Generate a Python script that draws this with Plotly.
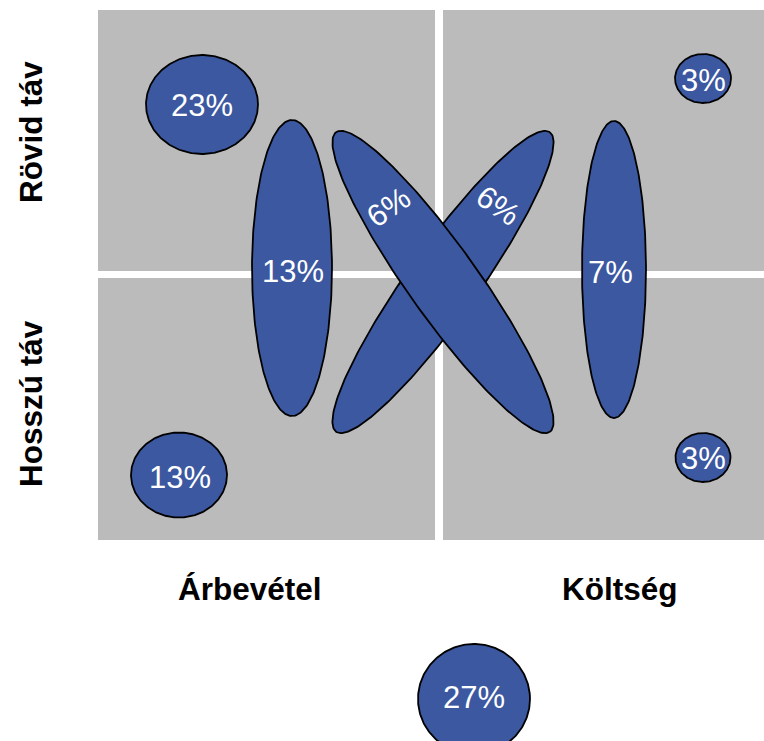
import numpy as np
import plotly.graph_objects as go

# ---- data ----
labels = ["23%", "13%", "6%", "6%", "7%", "3%", "13%", "3%", "27%"]
cx = [202, 292, 443, 443, 614, 703, 179, 703, 474]
cy = [104.5, 268, 282, 282, 269.5, 78.5, 475, 457.5, 699]
rx = [56, 40, 184, 184, 32, 28, 48, 27.5, 56]
ry = [49.5, 148, 35, 35, 148.5, 24.5, 42.5, 24.5, 55]
rot = [0, 0, -54.5, 54.5, 0, 0, 0, 0, 0]
text_x = [202, 293, 498, 388, 610, 703, 180, 703, 474]
text_y = [105, 271, 205, 207, 272, 80, 477, 458, 697]
text_angle = [0, 0, 35, -35, 0, 0, 0, 0, 0]

col_labels = ["Árbevétel", "Költség"]
col_label_x = [250, 620]
row_labels = ["Rövid táv", "Hosszú táv"]
row_label_y = [132, 404]

quad_x0 = [98, 443, 98, 443]
quad_x1 = [435, 770, 435, 770]
quad_y0 = [10, 10, 278, 278]
quad_y1 = [271, 271, 540, 540]

FILL = "#3B58A0"
GRAY = "#BBBBBB"
FONT = "Liberation Sans, Arial, sans-serif"

W, H = 764, 741

fig = go.Figure()

for x0, x1, y0, y1 in zip(quad_x0, quad_x1, quad_y0, quad_y1):
    fig.add_shape(type="rect", x0=x0, x1=x1, y0=y0, y1=y1,
                  fillcolor=GRAY, line=dict(width=0), layer="below")

t = np.linspace(0, 2 * np.pi, 241)
for i in range(len(labels)):
    th = np.deg2rad(rot[i])
    px = cx[i] + rx[i] * np.cos(t) * np.cos(th) - ry[i] * np.sin(t) * np.sin(th)
    py = cy[i] + rx[i] * np.cos(t) * np.sin(th) + ry[i] * np.sin(t) * np.cos(th)
    fig.add_trace(go.Scatter(x=px, y=py, mode="lines", fill="toself",
                             fillcolor=FILL, line=dict(color="black", width=1.8),
                             hoverinfo="skip", showlegend=False))

for i in range(len(labels)):
    fig.add_annotation(x=text_x[i], y=text_y[i], text=labels[i], showarrow=False,
                       textangle=text_angle[i],
                       font=dict(family=FONT, size=31, color="white"))

for lab, x in zip(col_labels, col_label_x):
    fig.add_annotation(x=x, y=589, text="<b>" + lab + "</b>", showarrow=False,
                       font=dict(family=FONT, size=31.5, color="black"))
for lab, y in zip(row_labels, row_label_y):
    fig.add_annotation(x=31, y=y, text="<b>" + lab + "</b>", showarrow=False,
                       textangle=-90,
                       font=dict(family=FONT, size=31.5, color="black"))

fig.update_layout(
    width=W, height=H,
    margin=dict(l=0, r=0, t=0, b=0),
    paper_bgcolor="white", plot_bgcolor="white",
    xaxis=dict(range=[0, W], visible=False, fixedrange=True),
    yaxis=dict(range=[H, 0], visible=False, fixedrange=True),
)

fig.write_html(
    "out.html",
    config={"displayModeBar": False, "staticPlot": True},
    post_script="document.body.style.margin='0';document.body.style.overflow='hidden';",
)
